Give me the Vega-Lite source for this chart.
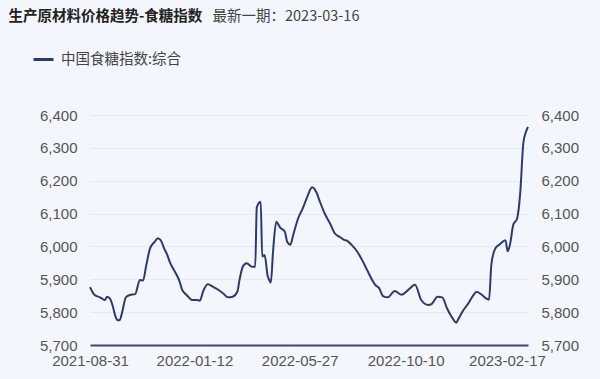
{
  "$schema": "https://vega.github.io/schema/vega-lite/v6.json",
  "autosize": {"type": "none"},
  "width": 438,
  "height": 230,
  "padding": {"left": 90, "top": 115, "right": 72, "bottom": 34},
  "background": "#f3f6fc",
  "config": {
    "view": {"stroke": null},
    "font": "Noto Sans CJK SC"
  },
  "data": {
    "values": [
      {"date": "2021-08-31", "value": 5876},
      {"date": "2021-09-04", "value": 5858},
      {"date": "2021-09-06", "value": 5852},
      {"date": "2021-09-13", "value": 5845},
      {"date": "2021-09-19", "value": 5837},
      {"date": "2021-09-22", "value": 5847},
      {"date": "2021-09-26", "value": 5840},
      {"date": "2021-09-29", "value": 5820},
      {"date": "2021-10-03", "value": 5785},
      {"date": "2021-10-06", "value": 5775},
      {"date": "2021-10-08", "value": 5776},
      {"date": "2021-10-11", "value": 5797},
      {"date": "2021-10-16", "value": 5845},
      {"date": "2021-10-21", "value": 5852},
      {"date": "2021-10-28", "value": 5855},
      {"date": "2021-11-03", "value": 5898},
      {"date": "2021-11-07", "value": 5896},
      {"date": "2021-11-11", "value": 5940},
      {"date": "2021-11-16", "value": 5994},
      {"date": "2021-11-22", "value": 6014},
      {"date": "2021-11-26", "value": 6025},
      {"date": "2021-11-30", "value": 6018},
      {"date": "2021-12-04", "value": 5995},
      {"date": "2021-12-08", "value": 5975},
      {"date": "2021-12-12", "value": 5949},
      {"date": "2021-12-18", "value": 5923},
      {"date": "2021-12-24", "value": 5893},
      {"date": "2021-12-27", "value": 5869},
      {"date": "2022-01-02", "value": 5852},
      {"date": "2022-01-09", "value": 5837},
      {"date": "2022-01-15", "value": 5837},
      {"date": "2022-01-19", "value": 5835},
      {"date": "2022-01-23", "value": 5862},
      {"date": "2022-01-29", "value": 5885},
      {"date": "2022-02-05", "value": 5877},
      {"date": "2022-02-11", "value": 5869},
      {"date": "2022-02-18", "value": 5857},
      {"date": "2022-02-24", "value": 5845},
      {"date": "2022-03-02", "value": 5847},
      {"date": "2022-03-08", "value": 5862},
      {"date": "2022-03-11", "value": 5900},
      {"date": "2022-03-15", "value": 5938},
      {"date": "2022-03-20", "value": 5949},
      {"date": "2022-03-27", "value": 5938},
      {"date": "2022-03-31", "value": 5938},
      {"date": "2022-04-02", "value": 6119},
      {"date": "2022-04-07", "value": 6136},
      {"date": "2022-04-09", "value": 5969},
      {"date": "2022-04-12", "value": 5974},
      {"date": "2022-04-16", "value": 5910},
      {"date": "2022-04-19", "value": 5893},
      {"date": "2022-04-20", "value": 5890},
      {"date": "2022-04-23", "value": 5989},
      {"date": "2022-04-27", "value": 6075},
      {"date": "2022-05-02", "value": 6057},
      {"date": "2022-05-08", "value": 6045},
      {"date": "2022-05-11", "value": 6014},
      {"date": "2022-05-15", "value": 6005},
      {"date": "2022-05-19", "value": 6037},
      {"date": "2022-05-25", "value": 6085},
      {"date": "2022-05-31", "value": 6116},
      {"date": "2022-06-05", "value": 6146},
      {"date": "2022-06-12", "value": 6180},
      {"date": "2022-06-18", "value": 6162},
      {"date": "2022-06-22", "value": 6136},
      {"date": "2022-06-28", "value": 6101},
      {"date": "2022-07-05", "value": 6070},
      {"date": "2022-07-11", "value": 6040},
      {"date": "2022-07-18", "value": 6028},
      {"date": "2022-07-23", "value": 6020},
      {"date": "2022-07-27", "value": 6017},
      {"date": "2022-08-02", "value": 6004},
      {"date": "2022-08-09", "value": 5984},
      {"date": "2022-08-15", "value": 5959},
      {"date": "2022-08-21", "value": 5931},
      {"date": "2022-08-28", "value": 5898},
      {"date": "2022-09-01", "value": 5883},
      {"date": "2022-09-06", "value": 5873},
      {"date": "2022-09-11", "value": 5849},
      {"date": "2022-09-17", "value": 5845},
      {"date": "2022-09-26", "value": 5864},
      {"date": "2022-10-05", "value": 5853},
      {"date": "2022-10-13", "value": 5867},
      {"date": "2022-10-22", "value": 5883},
      {"date": "2022-10-30", "value": 5837},
      {"date": "2022-11-08", "value": 5822},
      {"date": "2022-11-12", "value": 5824},
      {"date": "2022-11-20", "value": 5847},
      {"date": "2022-11-26", "value": 5845},
      {"date": "2022-12-02", "value": 5812},
      {"date": "2022-12-08", "value": 5786},
      {"date": "2022-12-14", "value": 5768},
      {"date": "2022-12-16", "value": 5776},
      {"date": "2022-12-23", "value": 5806},
      {"date": "2022-12-29", "value": 5825},
      {"date": "2023-01-05", "value": 5852},
      {"date": "2023-01-09", "value": 5862},
      {"date": "2023-01-16", "value": 5852},
      {"date": "2023-01-21", "value": 5842},
      {"date": "2023-01-25", "value": 5838},
      {"date": "2023-01-28", "value": 5945},
      {"date": "2023-02-02", "value": 5994},
      {"date": "2023-02-08", "value": 6007},
      {"date": "2023-02-15", "value": 6019},
      {"date": "2023-02-18", "value": 5985},
      {"date": "2023-02-21", "value": 6007},
      {"date": "2023-02-25", "value": 6065},
      {"date": "2023-03-02", "value": 6085},
      {"date": "2023-03-06", "value": 6162},
      {"date": "2023-03-10", "value": 6314},
      {"date": "2023-03-13", "value": 6346},
      {"date": "2023-03-16", "value": 6364}
    ]
  },
  "encoding": {
    "x": {
      "field": "date",
      "type": "temporal",
      "scale": {
        "type": "utc",
        "domain": [
          {"year": 2021, "month": 8, "date": 31, "utc": true},
          {"year": 2023, "month": 3, "date": 16, "utc": true}
        ],
        "nice": false
      },
      "axis": {
        "title": null,
        "values": [
          {"year": 2021, "month": 8, "date": 31, "utc": true},
          {"year": 2022, "month": 1, "date": 12, "utc": true},
          {"year": 2022, "month": 5, "date": 27, "utc": true},
          {"year": 2022, "month": 10, "date": 10, "utc": true},
          {"year": 2023, "month": 2, "date": 17, "utc": true}
        ],
        "format": "%Y-%m-%d",
        "grid": false,
        "ticks": false,
        "domainColor": "#3c4a6e",
        "domainWidth": 2,
        "labelFontSize": 15,
        "labelColor": "#555555",
        "labelPadding": 8,
        "labelFont": "Liberation Sans",
        "labelOverlap": false,
        "labelFlush": false,
        "labelDx": 4
      }
    }
  },
  "layer": [
    {
      "mark": {"type": "line", "strokeWidth": 2, "interpolate": "monotone"},
      "encoding": {
        "y": {
          "field": "value",
          "type": "quantitative",
          "scale": {"domain": [5700, 6400], "nice": false, "zero": false},
          "axis": {
            "orient": "left",
            "values": [5700, 5800, 5900, 6000, 6100, 6200, 6300, 6400],
            "format": ",d",
            "domain": false,
            "ticks": false,
            "grid": true,
            "gridColor": "#e4e9f3",
            "gridWidth": 1,
            "labelFontSize": 15,
            "labelColor": "#555555",
            "labelPadding": 13,
            "labelFont": "Liberation Sans",
            "title": "最新一期：2023-03-16",
            "titleAngle": 0,
            "titleAlign": "left",
            "titleBaseline": "middle",
            "titleX": 122,
            "titleY": -99,
            "titleFontSize": 14.5,
            "titleFontWeight": "normal",
            "titleColor": "#444444",
            "titleFont": "Noto Sans CJK SC"
          }
        },
        "color": {
          "datum": "中国食糖指数:综合",
          "type": "nominal",
          "scale": {"range": ["#2d3a6d"]},
          "legend": {
            "title": null,
            "orient": "none",
            "legendX": -58,
            "legendY": -67,
            "symbolType": "stroke",
            "symbolSize": 400,
            "symbolStrokeWidth": 3,
            "labelFontSize": 14.5,
            "labelColor": "#444444",
            "labelFont": "Noto Sans CJK SC",
            "labelOffset": 6
          }
        }
      }
    },
    {
      "mark": {"type": "line", "strokeWidth": 2, "opacity": 0},
      "encoding": {
        "y": {
          "field": "value",
          "type": "quantitative",
          "scale": {"domain": [5700, 6400], "nice": false, "zero": false},
          "axis": {
            "orient": "right",
            "values": [5700, 5800, 5900, 6000, 6100, 6200, 6300, 6400],
            "format": ",d",
            "domain": false,
            "ticks": false,
            "grid": false,
            "labelFontSize": 15,
            "labelColor": "#555555",
            "labelPadding": 13,
            "labelFont": "Liberation Sans",
            "title": "生产原材料价格趋势-食糖指数",
            "titleAngle": 0,
            "titleAlign": "left",
            "titleBaseline": "middle",
            "titleX": -520,
            "titleY": -99,
            "titleFontSize": 14.5,
            "titleFontWeight": "bold",
            "titleColor": "#222222",
            "titleFont": "Noto Sans CJK SC"
          }
        }
      }
    }
  ],
  "resolve": {"scale": {"y": "independent"}}
}
